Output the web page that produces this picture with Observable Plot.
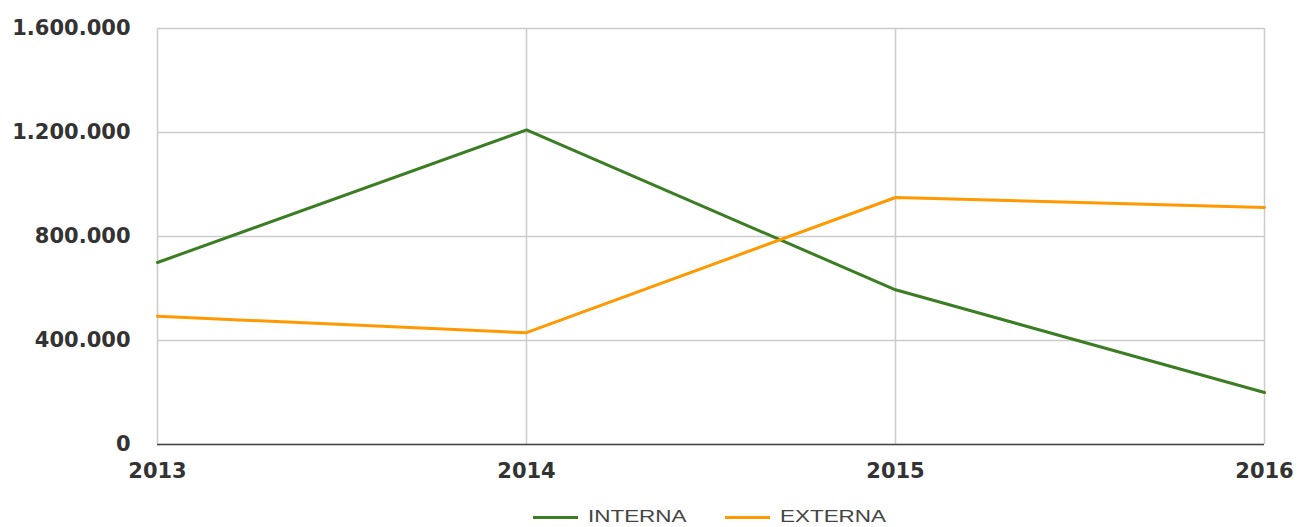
<!DOCTYPE html>
<html>
<head>
<meta charset="utf-8">
<script src="https://cdn.jsdelivr.net/npm/d3@7"></script>
<script src="https://cdn.jsdelivr.net/npm/@observablehq/plot@0.6"></script>
<style>
  html, body { margin: 0; padding: 0; background: #fff; }
  body { width: 1298px; height: 527px; overflow: hidden; font-family: "Liberation Sans", Arial, sans-serif; }
  #legend { position: relative; height: 32px; width: 1298px; }
  .item { position: absolute; top: 6px; display: flex; align-items: center; height: 32px; font-size: 17px; color: #444; }
  .swatch { display: inline-block; width: 45px; height: 3px; margin-right: 10px; }
  .lbl { display: inline-block; transform: scaleX(1.32); transform-origin: left center; }
</style>
</head>
<body>
<div id="chart"></div>
<div id="legend"></div>
<script>
const years = [2013, 2014, 2015, 2016];
const interna = [700000, 1210000, 595000, 200000];
const externa = [493000, 430000, 950000, 912000];
const seriesNames = ["INTERNA", "EXTERNA"];
const seriesColors = ["#3b7d23", "#ff9900"];
const yTicks = [0, 400000, 800000, 1200000, 1600000];

const data = [];
years.forEach((y, i) => {
  data.push({year: y, value: interna[i], series: seriesNames[0]});
  data.push({year: y, value: externa[i], series: seriesNames[1]});
});

const loc = d3.formatLocale({decimal: ",", thousands: ".", grouping: [3], currency: ["", ""]});
const fmt = loc.format(",d");

const W = 1298, H = 495;
const axisFont = "'DejaVu Sans', 'Liberation Sans', sans-serif";
const chart = Plot.plot({
  width: W,
  height: H,
  marginLeft: 157,
  marginRight: 34,
  marginTop: 28,
  marginBottom: H - 444,
  style: {fontFamily: axisFont, background: "#fff", overflow: "visible"},
  x: {domain: [2013, 2016], ticks: years, tickFormat: d => String(d), label: null},
  y: {domain: [0, 1600000], ticks: yTicks, tickFormat: fmt, label: null},
  color: {domain: seriesNames, range: seriesColors},
  marks: [
    Plot.gridY(yTicks, {stroke: "#cccccc", strokeOpacity: 1, strokeWidth: 1.5}),
    Plot.gridX(years, {stroke: "#cccccc", strokeOpacity: 1, strokeWidth: 1.5}),
    Plot.ruleY([0], {stroke: "#444", strokeWidth: 1.5}),
    Plot.axisY(yTicks, {tickSize: 0, tickPadding: 27, tickFormat: fmt, fontSize: 21, fontWeight: "bold", fill: "#333", label: null}),
    Plot.axisX(years, {tickSize: 0, tickPadding: 19, tickFormat: d => String(d), fontSize: 21, fontWeight: "bold", fill: "#333", label: null}),
    Plot.line(data, {x: "year", y: "value", stroke: "series", strokeWidth: 3})
  ]
});
document.getElementById("chart").appendChild(chart);

const legend = document.getElementById("legend");
const positions = [533, 725];
seriesNames.forEach((n, i) => {
  const it = document.createElement("div");
  it.className = "item";
  it.style.left = positions[i] + "px";
  const sw = document.createElement("span");
  sw.className = "swatch";
  sw.style.background = seriesColors[i];
  const tx = document.createElement("span");
  tx.className = "lbl";
  tx.textContent = n;
  it.appendChild(sw);
  it.appendChild(tx);
  legend.appendChild(it);
});
</script>
</body>
</html>
